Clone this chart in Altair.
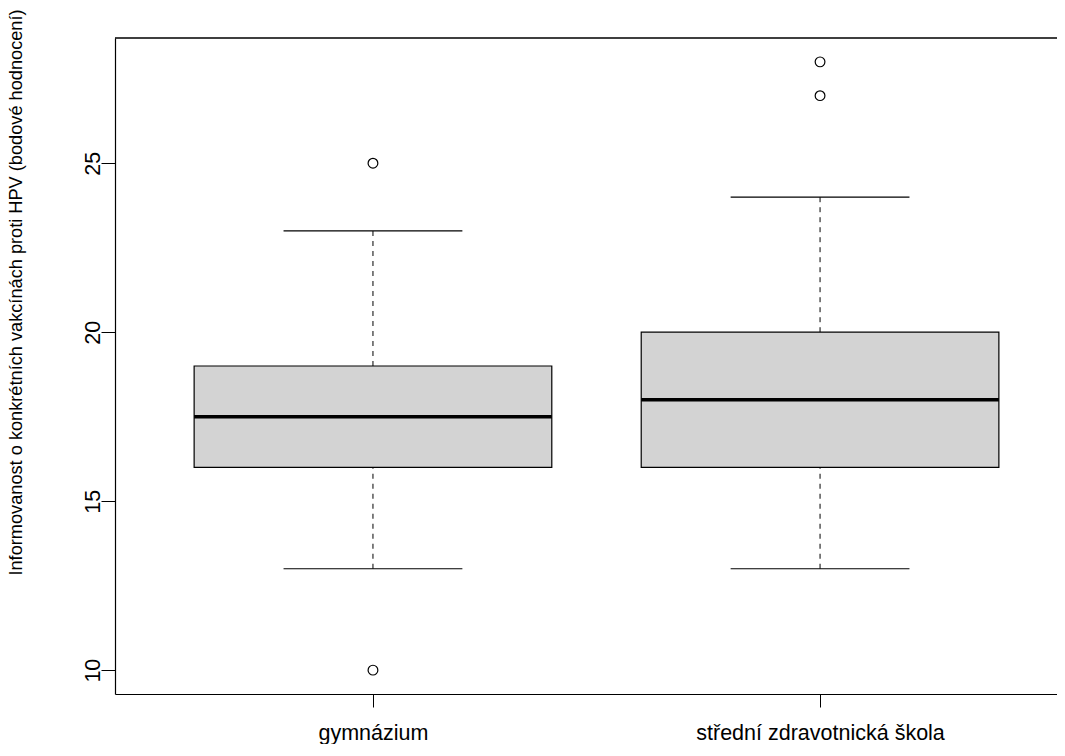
import altair as alt
import pandas as pd

# ---- data ----
groups = ["gymnázium", "střední zdravotnická škola"]
positions = [1, 2]
whisker_low = [13, 13]
q1 = [16, 16]
median = [17.5, 18]
q3 = [19, 20]
whisker_high = [23, 24]
outlier_pos = [1, 1, 2, 2]
outlier_value = [25, 10, 27, 28]
y_ticks = [10, 15, 20, 25]
y_title = "Informovanost o konkrétních vakcínách proti HPV (bodové hodnocení)"

box_half = 0.4
cap_half = 0.2

boxes = pd.DataFrame({
    "group": groups,
    "pos": positions,
    "lo": whisker_low,
    "q1": q1,
    "med": median,
    "q3": q3,
    "hi": whisker_high,
})
boxes["left"] = boxes["pos"] - box_half
boxes["right"] = boxes["pos"] + box_half
boxes["capl"] = boxes["pos"] - cap_half
boxes["capr"] = boxes["pos"] + cap_half

outliers = pd.DataFrame({"pos": outlier_pos, "value": outlier_value})

FONT = "Liberation Sans"
FS = 21.5
TITLE_FS = 18.2

x_domain = [0.423, 2.530]
y_domain = [9.294, 28.706]
xscale = alt.Scale(domain=x_domain, nice=False, zero=False)
yscale = alt.Scale(domain=y_domain, nice=False, zero=False)

label_expr = "[" + ",".join("'" + g + "'" for g in groups) + "][datum.value - 1]"

xaxis = alt.Axis(
    values=positions, labelExpr=label_expr, title=None, grid=False,
    domain=True, domainColor="black", domainWidth=1.2,
    tickSize=13, tickColor="black", tickWidth=1,
    labelFont=FONT, labelFontSize=FS, labelColor="black",
    labelPadding=32, labelBaseline="alphabetic", labelAlign="center",
    labelFlush=False, labelOverlap=False, labelBound=False, labelLimit=0,
)
yaxis = alt.Axis(
    values=y_ticks, title=y_title, grid=False,
    domain=True, domainColor="black", domainWidth=1.2,
    tickSize=14, tickColor="black", tickWidth=1,
    labelFont=FONT, labelFontSize=FS, labelColor="black",
    labelAngle=270, labelAlign="center", labelBaseline="alphabetic",
    labelPadding=2, labelOverlap=False, labelFlush=False, labelBound=False,
    labelLimit=0,
    titleFont=FONT, titleFontSize=TITLE_FS, titleFontWeight="normal", titleColor="black",
    titleAngle=270, titleX=-94, titleY=254, titleAlign="center",
    titleBaseline="alphabetic", titleLimit=0,
)


def X(field):
    return alt.X(field, type="quantitative", scale=xscale, axis=xaxis)


def Y(field):
    return alt.Y(field, type="quantitative", scale=yscale, axis=yaxis)


base = alt.Chart(boxes)

whisk_lo = base.mark_rule(color="black", strokeWidth=1, strokeDash=[5, 5]).encode(
    x=X("pos"), y=Y("lo"), y2="q1")
whisk_hi = base.mark_rule(color="black", strokeWidth=1, strokeDash=[5, 5]).encode(
    x=X("pos"), y=Y("q3"), y2="hi")
box = base.mark_rect(fill="#d3d3d3", stroke="black", strokeWidth=1.2).encode(
    x=X("left"), x2="right", y=Y("q1"), y2="q3")
med = base.mark_rule(color="black", strokeWidth=3.5).encode(
    x=X("left"), x2="right", y=Y("med"))
cap_lo = base.mark_rule(color="black", strokeWidth=1.2).encode(
    x=X("capl"), x2="capr", y=Y("lo"))
cap_hi = base.mark_rule(color="black", strokeWidth=1.2).encode(
    x=X("capl"), x2="capr", y=Y("hi"))
pts = alt.Chart(outliers).mark_point(
    shape="circle", filled=False, size=95, color="black", strokeWidth=1.2, opacity=1
).encode(x=X("pos"), y=Y("value"))

# top frame line (plot box continues off to the right in the reference)
top_line = alt.Chart(boxes).mark_rule(color="black", strokeWidth=1.2).encode(
    x=alt.X(datum=x_domain[0], type="quantitative", scale=xscale, axis=xaxis),
    x2=alt.datum(x_domain[1]),
    y=alt.Y(datum=y_domain[1], type="quantitative", scale=yscale, axis=yaxis),
)

chart = alt.layer(whisk_lo, whisk_hi, box, med, cap_lo, cap_hi, pts, top_line).properties(
    width=942, height=656,
    autosize=alt.AutoSizeParams(type="none"),
    padding={"left": 107, "top": 30, "right": 0, "bottom": 50},
    background="white",
).configure_view(stroke=None)

chart.save("out.html", embed_options={"renderer": "svg", "actions": False})
